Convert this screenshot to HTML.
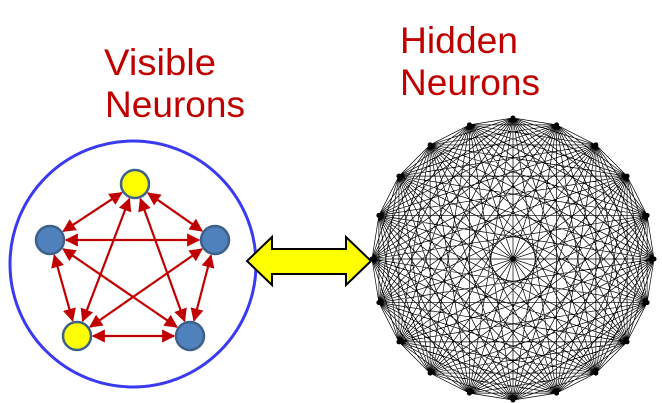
<!DOCTYPE html>
<html><head><meta charset="utf-8"><style>
html,body{margin:0;padding:0;background:#fff;}
svg{display:block;}
text{font-family:"Liberation Sans",sans-serif;fill:#c00000;font-size:37px;}
</style></head><body>
<svg id="s" width="662" height="403" viewBox="0 0 662 403" xmlns="http://www.w3.org/2000/svg">
<defs>
<marker id="ah" viewBox="0 0 10 10" refX="9" refY="5" markerWidth="6" markerHeight="6" orient="auto-start-reverse" markerUnits="strokeWidth">
<path d="M0,0 L10,5 L0,10 z" fill="#c00000"/>
</marker>
</defs>
<text x="104" y="75" textLength="112" lengthAdjust="spacingAndGlyphs">Visible</text>
<text x="105" y="117" textLength="140" lengthAdjust="spacingAndGlyphs">Neurons</text>
<text x="400" y="53" textLength="118" lengthAdjust="spacingAndGlyphs">Hidden</text>
<text x="400" y="95" textLength="140" lengthAdjust="spacingAndGlyphs">Neurons</text>

<circle cx="133" cy="264" r="123" fill="none" stroke="#3a3af0" stroke-width="3"/>
<g id="edges" stroke="#c00000" stroke-width="2.2" fill="none"></g>
<g stroke="#3d6189" stroke-width="2.5">
<circle cx="135" cy="184" r="14" fill="#ffff00"/>
<circle cx="50" cy="240" r="14" fill="#4f81bd"/>
<circle cx="215" cy="240" r="14" fill="#4f81bd"/>
<circle cx="77" cy="336" r="14" fill="#ffff00"/>
<circle cx="190" cy="336" r="14" fill="#4f81bd"/>
</g>

<path d="M247,261 L272,237 L272,249 L346,249 L346,237 L371,261 L346,285 L346,274 L272,274 L272,285 Z" fill="#ffff00" stroke="#000" stroke-width="2" stroke-linejoin="miter"/>

<g id="k" stroke="#000" stroke-width="0.7" fill="none"></g>
<g id="kn" fill="#000"></g>
</svg>
<script>
var ns="http://www.w3.org/2000/svg";
var N=[[135,184],[50,240],[215,240],[77,336],[190,336]];
var E=document.getElementById('edges');
for(var i=0;i<5;i++)for(var j=i+1;j<5;j++){
 var a=N[i],b=N[j],dx=b[0]-a[0],dy=b[1]-a[1],L=Math.sqrt(dx*dx+dy*dy),ux=dx/L,uy=dy/L,r=16;
 var l=document.createElementNS(ns,'line');
 l.setAttribute('x1',a[0]+ux*r);l.setAttribute('y1',a[1]+uy*r);
 l.setAttribute('x2',b[0]-ux*r);l.setAttribute('y2',b[1]-uy*r);
 l.setAttribute('marker-start','url(#ah)');l.setAttribute('marker-end','url(#ah)');
 E.appendChild(l);
}
var K=document.getElementById('k'),KN=document.getElementById('kn');
var cx=513,cy=259,R=141,n=20,P=[];
for(var i=0;i<n;i++){var t=-Math.PI/2+i*2*Math.PI/n;P.push([cx+R*Math.cos(t),cy+R*Math.sin(t)]);}
var d='';
for(var i=0;i<n;i++)for(var j=i+1;j<n;j++)d+='M'+P[i][0].toFixed(2)+','+P[i][1].toFixed(2)+'L'+P[j][0].toFixed(2)+','+P[j][1].toFixed(2);
var p=document.createElementNS(ns,'path');p.setAttribute('d',d);K.appendChild(p);
for(var i=0;i<n;i++){var c=document.createElementNS(ns,'circle');c.setAttribute('cx',P[i][0]);c.setAttribute('cy',P[i][1]);c.setAttribute('r',2.5);KN.appendChild(c);}
</script>
</body></html>
